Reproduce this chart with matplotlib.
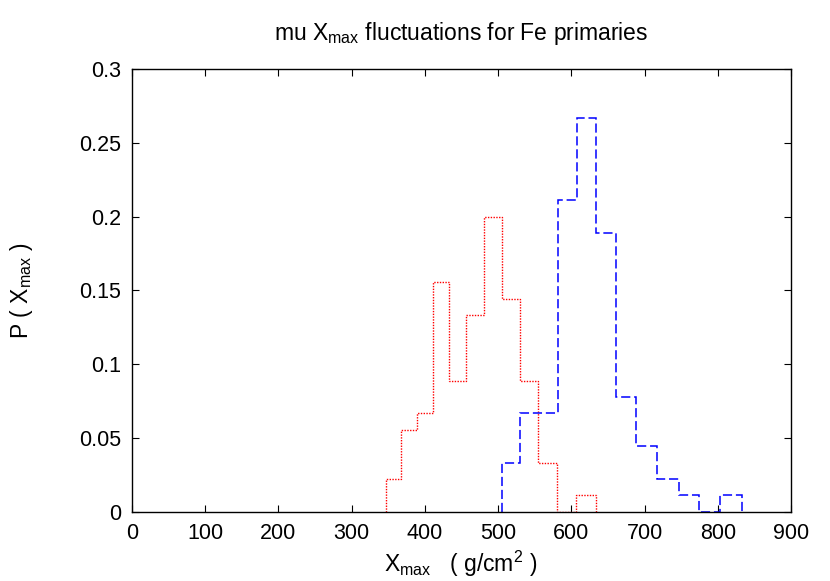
import matplotlib
matplotlib.use("Agg")
import matplotlib.pyplot as plt

# common bin edges (g/cm^2)
edges_fe = [346.4, 366.8, 388.6, 410.9, 433.6, 456.8, 480.5, 505.0, 529.5,
            555.0, 580.5, 606.8, 634.1]
p_fe = [0.0222, 0.0556, 0.0667, 0.1556, 0.0889, 0.1333, 0.2000, 0.1444,
        0.0889, 0.0333, 0.0, 0.0111]

edges_mu = [505.0, 530.0, 555.9, 581.4, 607.3, 634.1, 661.4, 688.6, 716.8,
            746.4, 774.5, 803.6, 833.2]
p_mu = [0.0333, 0.0667, 0.0667, 0.2111, 0.2667, 0.1889, 0.0778, 0.0444,
        0.0222, 0.0111, 0.0, 0.0111]

xticks = list(range(0, 1000, 100))
yticks = [0, 0.05, 0.1, 0.15, 0.2, 0.25, 0.3]
yticklabels = ["0", "0.05", "0.1", "0.15", "0.2", "0.25", "0.3"]

plt.rcParams["font.family"] = ["Liberation Sans", "DejaVu Sans"]
plt.rcParams["mathtext.fontset"] = "custom"
plt.rcParams["mathtext.rm"] = "Liberation Sans"
plt.rcParams["mathtext.it"] = "Liberation Sans"
plt.rcParams["mathtext.default"] = "regular"

fig = plt.figure(figsize=(8.3, 5.81), dpi=100)
ax = fig.add_axes([0.159, 0.1193, 0.794, 0.7619])

ax.stairs(p_fe, edges_fe, baseline=0, color="#ff0000", lw=1.0,
          linestyle=(0, (1, 1)), zorder=2)
ax.stairs(p_mu, edges_mu, baseline=0, color="#0000ff", lw=1.1,
          linestyle=(0, (6, 2.5)), zorder=2)

ax.set_xlim(0, 900)
ax.set_ylim(0, 0.3)
ax.set_xticks(xticks)
ax.set_yticks(yticks)
ax.set_yticklabels(yticklabels)
ax.tick_params(direction="in", length=5, width=0.8, top=True, right=True,
               labelsize=15.5, pad=8, colors="black")
for s in ax.spines.values():
    s.set_linewidth(1.0)
    s.set_zorder(3)

fig.text(0.555, 0.943, r"mu X$_{max}$ fluctuations for Fe primaries",
         ha="center", va="center", fontsize=16.5)
fig.text(0.555, 0.03, r"X$_{max}$   ( g/cm$^{2}$ )", ha="center",
         va="center", fontsize=16.5)
fig.text(0.026, 0.50, r"P ( X$_{max}$ )", ha="center", va="center",
         rotation=90, fontsize=16.5)

fig.savefig("out.png", dpi=100)
